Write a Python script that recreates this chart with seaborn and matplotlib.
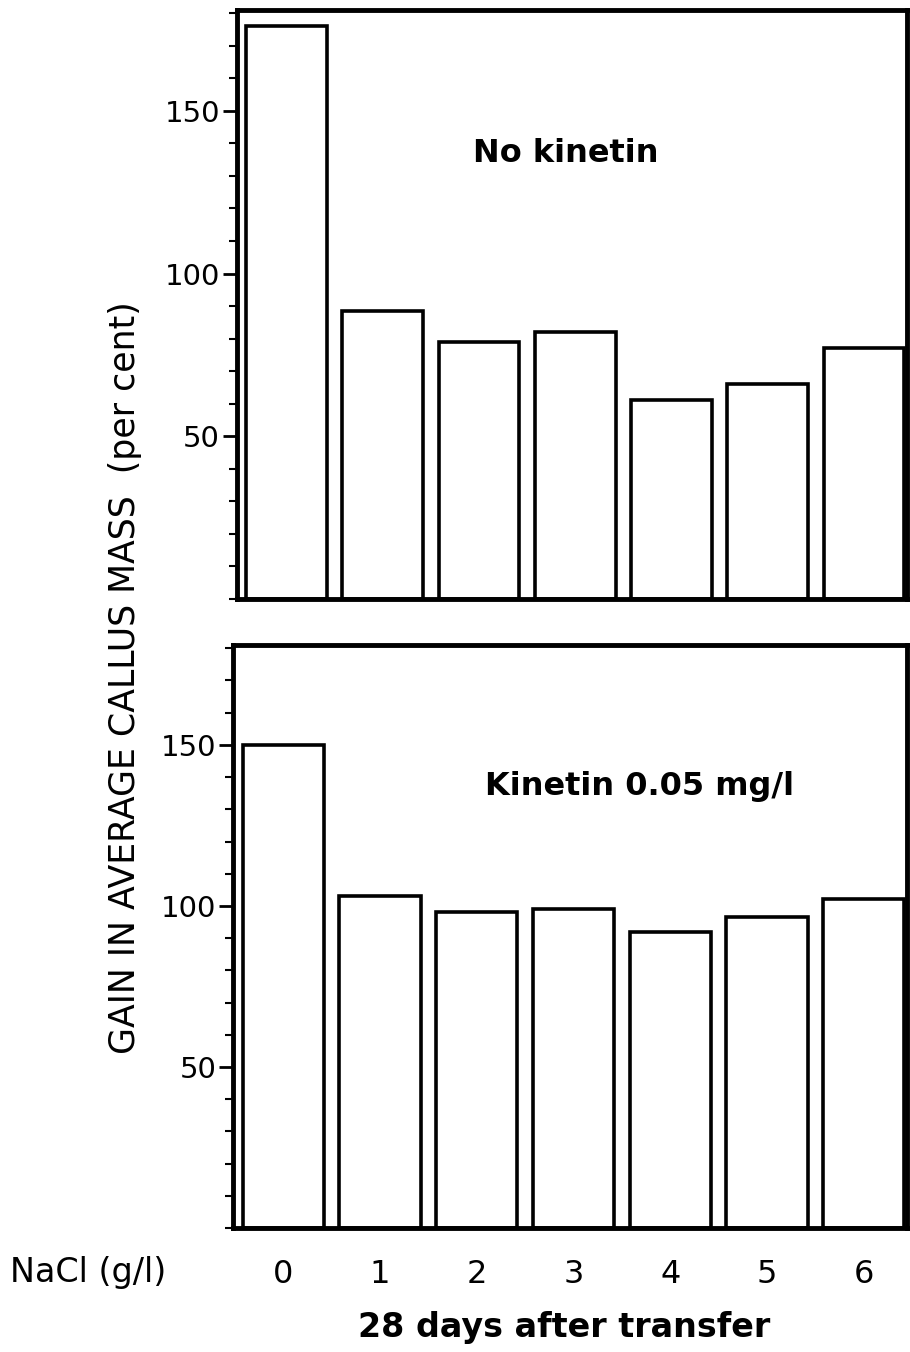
import matplotlib
matplotlib.use("Agg")
import matplotlib.pyplot as plt
import pandas as pd
import seaborn as sns
from matplotlib.ticker import MultipleLocator

# NaCl concentration (g/l) and gain in callus mass (per cent)
nacl = ["0", "1", "2", "3", "4", "5", "6"]
no_kinetin = [176, 88.5, 79, 82, 61, 66, 77]
kinetin_005 = [150, 103, 98, 99, 92, 96.5, 102]

sns.set_theme(style="ticks")
plt.rcParams["font.family"] = ["DejaVu Sans"]
plt.rcParams["text.color"] = "black"
plt.rcParams["xtick.color"] = "black"
plt.rcParams["ytick.color"] = "black"

fig = plt.figure(figsize=(9.1, 13.52), dpi=100)
ax1 = fig.add_axes([0.260, 0.557, 0.737, 0.4356])
ax2 = fig.add_axes([0.256, 0.0917, 0.741, 0.4312])

panels = [(ax1, no_kinetin, "No kinetin", 2.9),
          (ax2, kinetin_005, "Kinetin 0.05 mg/l", 3.68)]

for ax, vals, label, tx in panels:
    df = pd.DataFrame({"NaCl": nacl, "gain": vals})
    sns.barplot(data=df, x="NaCl", y="gain", color="white", saturation=1,
                edgecolor="black", linewidth=2.6, width=0.84, ax=ax)
    ax.set_xlim(-0.52, 6.45)
    ax.set_ylim(0, 181)
    ax.set_yticks([50, 100, 150])
    ax.yaxis.set_minor_locator(MultipleLocator(10))
    ax.tick_params(axis="y", which="major", length=10, width=2, direction="out",
                   labelsize=21, pad=2, colors="black")
    ax.tick_params(axis="y", which="minor", length=6, width=1.5, direction="out")
    ax.tick_params(axis="x", length=0)
    for sp in ax.spines.values():
        sp.set_visible(True)
        sp.set_linewidth(3.5)
        sp.set_color("black")
    ax.set_xlabel("")
    ax.set_ylabel("")
    ax.text(tx, 137, label, ha="center", va="center", fontsize=23,
            fontweight="bold", color="black")

ax1.set_xticklabels([])
ax2.tick_params(axis="x", labelsize=23, pad=22, labelcolor="black")

fig.text(0.137, 0.499, "GAIN IN AVERAGE CALLUS MASS  (per cent)", rotation=90,
         ha="center", va="center", fontsize=25, color="black")
fig.text(0.011, 0.059, "NaCl (g/l)", ha="left", va="center", fontsize=24,
         color="black")
fig.text(0.62, 0.018, "28 days after transfer", ha="center", va="center",
         fontsize=24, fontweight="bold", color="black")

fig.savefig("out.png", dpi=100)
